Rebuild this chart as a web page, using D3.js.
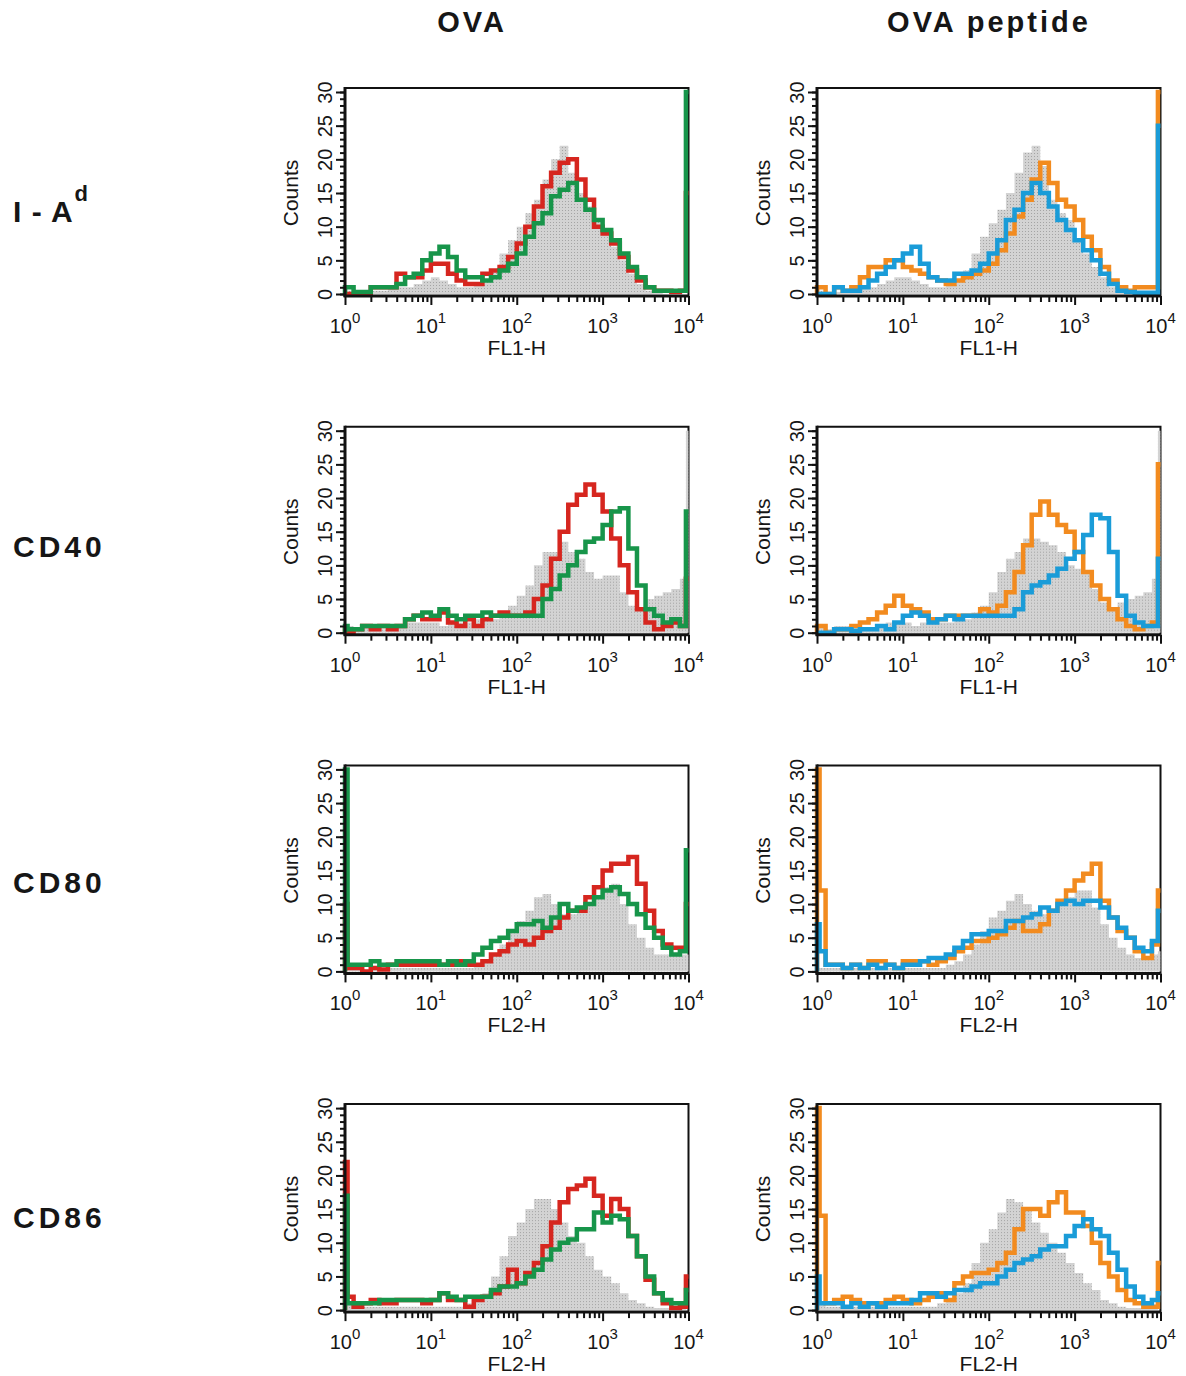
<!DOCTYPE html>
<html>
<head>
<meta charset="utf-8">
<script src="https://cdn.jsdelivr.net/npm/d3@7"></script>
<style>
  body { margin: 0; background: #fff; }
  svg { display: block; }
  text { font-family: "Liberation Sans", Arial, Helvetica, sans-serif; fill: #161616; }
  .colTitle { font-size: 29px; font-weight: bold; letter-spacing: 3px; }
  .rowLabel { font-size: 30px; font-weight: bold; letter-spacing: 4px; }
  .tickLabel { font-size: 20px; }
  .axisText { font-size: 21px; }
</style>
</head>
<body>
<div class="chart"></div>
<script>
// Categories
const rowNames = ['I - A', 'CD40', 'CD80', 'CD86']
const rowSup = ['d', '', '', '']
const colNames = ['OVA', 'OVA peptide']
const xTitles = ['FL1-H', 'FL1-H', 'FL2-H', 'FL2-H']
const yTicks = [0, 5, 10, 15, 20, 25, 30]
const xDecades = [0, 1, 2, 3, 4]

// Channel edges in decades: first channel, 0.1-decade bins, last channel
const edges = [0, 0.03, ...d3.range(1, 40).map(i => i / 10), 3.97, 4]

// Counts per bin (first channel, 40 bins, last channel)
// I-A^d, OVA
const iadOvaGray = [1, 0.5,0.3,0.3,0.5,0.5,0.8,1,1,1.5,2, 2.5,2,1.5,1,1,1.5,2,3.5,6,8, 10,12,14,17,20,22,18,15,13,11, 9,7,5,3,1.5,0.5,0.2,0,0,0, 0]
const iadOvaRed = [0, 0,0,0,1,1,1,3,2.5,2.5,3.5, 4.5,4.5,3,2,1.5,1.5,3,3.5,4,5.5, 7.5,10,13,16,18,19.5,20,17,14,10, 9,7.5,5.5,3.5,2,1,0.5,0.5,0.3,0.5, 15]
const iadOvaGreen = [1, 1,0.3,0.3,1,1,1,1.5,2.5,3,5, 6,7,5.5,3.5,2.5,2.5,2,2.5,3.5,4.5, 6,8.5,10.5,12,14.5,15.5,16.5,14,12.5,11, 9.5,8,6,4,2.5,1,0.5,0.5,0.5,0.5, 30]
// I-A^d, OVA peptide
const iadPepGray = [1, 0.5,0.3,0.3,0.5,0.5,0.8,1,1.5,2,2.5, 2.5,2,1.5,1,1,1.5,2,3.5,6,8.5, 10.5,12.5,15,18,21,22,19,14,12,11, 8,6,4,2.5,1,0.3,0.2,0,0,0, 0]
const iadPepOrange = [1, 1,0,1,0.5,1,2.5,4,4,5,5, 4,3.5,3,2.5,2,1.5,2,2.5,3,3.5, 4.5,6.5,9,11.5,14,17,19.5,16.5,14,13, 11,8.5,6.5,4,2,1,0.5,1,1,1, 30]
const iadPepBlue = [0, 0,0,1,0.5,0.5,1,2,3,4,5, 6,7,4.5,2.5,2,2,3,3,3.5,4.5, 6,8,11,12.5,15,16.5,15,13,11,9.5, 8,6.5,5,3,1.5,0.5,0.3,0.2,0.2,0.2, 25]
// CD40, OVA
const cd40OvaGray = [1, 1,0.5,1,0.5,0.5,0.5,1,1.5,1.5,1.5, 1.5,1,1.5,1.5,1.5,2,2,2,2.5,4, 5.5,7,10,12,12,13.5,12,11,9,8, 8.5,8.5,6,4,3.5,5,5.5,6,6.5,8, 30]
const cd40OvaRed = [0.5, 0,0.5,1,0.5,1,0.5,1,2,2.5,2, 2,3,1.5,1,2,1,2,2.5,3,2.5, 2.5,3,5,7,11,15,19,20.5,22,20.5, 18,14,10,6,3.5,1.5,0.5,1,1.5,1, 8]
const cd40OvaGreen = [1, 0.5,0.5,1,1,1,1,1,2,2.5,3, 2.5,3.5,2.5,2,2.5,2.5,3,2.5,2.5,2.5, 2.5,2.5,2.5,5,6.5,8.5,10,12,13.5,14, 16,18,18.5,12.5,7,3.5,2.5,1.5,2,1, 18]
// CD40, OVA peptide
const cd40PepGray = [1, 1,0.5,1,1,0.5,0.5,0.5,1,1.5,1.5, 1.5,1,1.5,1.5,1.5,1.5,2,2,3,4, 6,9,11,12,14,14,13.5,13,12,10, 9.5,9,6.5,4.5,3.5,4.5,5,5.5,6,8, 30]
const cd40PepOrange = [1, 1,0,0.5,0.5,1,1.5,2,3,4,5.5, 4,3.5,3,2,2,2.5,2.5,2.5,2.5,3.5, 3,4,6,9,13,17.5,19.5,17.5,16,15, 12,9,7,5,3.5,2,1,0.5,1,1.5, 25]
const cd40PepBlue = [0, 0,0,0.5,0.5,0.3,0.5,0.5,1,0.5,1.5, 2.5,3,2.5,1.5,2,2.5,2,2.5,2.5,2.5, 2.5,2.5,2.5,3.5,6,7,7.5,8.5,9.5,11, 12,14.5,17.5,17,12,5.5,2.5,1.5,1,1, 11]
// CD80, OVA
const cd80OvaGray = [0.5, 0.5,0.5,0.3,0.5,0.5,0.5,0.5,0.5,0.5,0.5, 0.5,0.5,0.5,0.5,0.5,1,1.5,2.5,4,6, 7.5,9,11,11.5,10,8.5,8.5,9,10,11, 12.5,13,10,7,5,3.5,2.5,2.5,2.5,2.5, 2.5]
const cd80OvaRed = [10, 0.5,0.5,0,0.5,0.3,1,1,1,1,1, 1,1,1,1.5,1,1,1.5,2.5,3,4, 4.5,4,5,6,6.5,8,9,9,11,12.5, 15,16,16,17,13,9,6,4,3.5,3.5, 10]
const cd80OvaGreen = [30, 1,1,1,1.5,1,1,1.5,1.5,1.5,1.5, 1.5,1,1.5,1,1.5,2.5,3.5,4.5,5,6, 7,7,7.5,6.5,8,10,9,9.5,10,11, 12,12.5,11.5,10,8.5,6.5,5,3.5,2.5,3, 18]
// CD80, OVA peptide
const cd80PepGray = [0.5, 0.5,0.5,0.5,0.5,0.5,0.5,0.5,0.5,0.5,0.5, 0.5,0.5,0.5,0.5,0.5,1,1.5,2.5,4,6, 8,9,10.5,11.5,10,9,8.5,9,10,11, 12,12,9.5,7,5,3.5,2.5,2,2,2.5, 3]
const cd80PepOrange = [30, 12,1,1,0.5,1,0.5,1.5,1.5,1,0.5, 1.5,1.5,1.5,1,1.5,2,3,3.5,4.5,4.5, 5,5.5,6.5,7.5,6,6,7,9,10.5,12, 13.5,14.5,16,10.5,8,6,5,3,2,4, 12]
const cd80PepBlue = [7, 3,1,1,0.5,1,0.5,1,0.5,1,0.5, 1,1,1.5,2,2,2.5,3.5,4.5,5.5,5.5, 6,6,7.5,7.5,8,8.5,9.5,9,10,10.5, 10,10.5,10.5,9.5,8,6.5,5,3.5,3,4.5, 9]
// CD86, OVA
const cd86OvaGray = [1, 1,0.5,0.5,0.5,0.5,0.5,0.5,0.5,0.5,0.5, 0.5,0.5,0.5,0.5,1,1.5,2.5,5,8,11, 13,15,16.5,16.5,15,13,11,10,8,6, 5,4,2.5,1.5,1,0.5,0.3,0.3,0.3,0.3, 0]
const cd86OvaRed = [22, 2,0.5,1,1.5,1,1,1.5,1.5,1.5,1, 1.5,2.5,1.5,1.5,0.5,1.5,2,2.5,3.5,6, 4,5.5,7,9.5,13,16,18,18.5,19.5,17, 14,16.5,15,11,8,4.5,2.5,1,0.3,0.5, 5]
const cd86OvaGreen = [17, 1,1,1,1,1.5,1.5,1.5,1.5,1.5,1.5, 1.5,2.5,2,1.5,2,2,2,3,3.5,3.5, 4,5,6,7.5,9,10,10.5,12,12,14.5, 13,14,13.5,11,8,5,2.5,1.5,1,1, 3]
// CD86, OVA peptide
const cd86PepGray = [1, 1,0.5,0.5,0.5,0.5,0.5,0.5,0.5,0.5,0.5, 0.5,0.5,0.5,0.5,1,1.5,2.5,4,7,10, 12,14.5,16.5,16,15,13,11.5,10,8.5,7, 5.5,4,3,1.5,1,0.5,0.3,0.3,0.3,0.3, 0]
const cd86PepOrange = [30, 14,1,1.5,2,1.5,1,1,1,1.5,2, 1.5,1,1.5,2,2.5,1.5,4,5,5.5,5.5, 6,7,8.5,12,15,15,14,16,17.5,14.5, 14.5,12.5,10,7,5,3,1.5,1,0.5,0.5, 7]
const cd86PepBlue = [5, 1,1,1,0.5,1,0.5,1,0.5,1,1, 1,1.5,2.5,2.5,2,2.5,3,3,3.5,4, 4,5,6,7,7.5,8,9,9.5,9.5,11, 12.5,13.5,12,11,8.5,6,3.5,2,1,1.5, 2.5]

const panels = [
  { row: 0, col: 0, gray: iadOvaGray, lines: [iadOvaRed, iadOvaGreen] },
  { row: 0, col: 1, gray: iadPepGray, lines: [iadPepOrange, iadPepBlue] },
  { row: 1, col: 0, gray: cd40OvaGray, lines: [cd40OvaRed, cd40OvaGreen] },
  { row: 1, col: 1, gray: cd40PepGray, lines: [cd40PepOrange, cd40PepBlue] },
  { row: 2, col: 0, gray: cd80OvaGray, lines: [cd80OvaRed, cd80OvaGreen] },
  { row: 2, col: 1, gray: cd80PepGray, lines: [cd80PepOrange, cd80PepBlue] },
  { row: 3, col: 0, gray: cd86OvaGray, lines: [cd86OvaRed, cd86OvaGreen] },
  { row: 3, col: 1, gray: cd86PepGray, lines: [cd86PepOrange, cd86PepBlue] }
]
const lineColors = [['#d6261f', '#17954a'], ['#f28b1f', '#1a9cd8']]

// Canvas
const svg = d3.select('.chart')
  .append('svg')
  .attr('width', 1186)
  .attr('height', 1376)

// stippled grey fill for the control histogram
const pat = svg.append('defs').append('pattern')
  .attr('id', 'stipple')
  .attr('width', 3).attr('height', 3)
  .attr('patternUnits', 'userSpaceOnUse')
pat.append('rect').attr('width', 3).attr('height', 3).attr('fill', '#d3d3d3')
pat.append('rect').attr('x', 1).attr('y', 1).attr('width', 1).attr('height', 1).attr('fill', '#a4a4a4')

const plotW = 343.5
const plotH = 202
const colLeft = c => 345 + c * 472
const rowBase = r => 294 + r * 338.7

const x = d3.scaleLog().domain([1, 1e4]).range([0, plotW])
const y = d3.scaleLinear().domain([0, 30]).range([plotH, 0])

// column titles
svg.selectAll('.colTitle')
  .data(colNames)
  .enter()
  .append('text')
  .attr('class', 'colTitle')
  .attr('x', (d, i) => i === 0 ? 472 : 989)
  .attr('y', 32)
  .attr('text-anchor', 'middle')
  .text(d => d)

// row labels
rowNames.forEach((name, r) => {
  const t = svg.append('text')
    .attr('class', 'rowLabel')
    .attr('x', 13)
    .attr('y', 222 + r * 335.3)
    .style('letter-spacing', rowSup[r] ? '1px' : null)
  t.append('tspan').text(name)
  if (rowSup[r]) {
    t.append('tspan')
      .attr('dy', -21)
      .attr('dx', 1)
      .style('font-size', '22px')
      .text(rowSup[r])
  }
})

const stepPoints = vals => {
  const pts = [{ e: 0, v: 0 }]
  edges.forEach((e, i) => pts.push({ e: e, v: vals[Math.min(i, vals.length - 1)] }))
  return pts
}

const lineGen = d3.line()
  .curve(d3.curveStepAfter)
  .x(d => x(Math.pow(10, d.e)))
  .y(d => y(d.v))

const areaGen = d3.area()
  .curve(d3.curveStepAfter)
  .x(d => x(Math.pow(10, d.e)))
  .y0(y(0))
  .y1(d => y(d.v))

panels.forEach(p => {
  const g = svg.append('g')
    .attr('transform', `translate(${colLeft(p.col)}, ${rowBase(p.row) - plotH})`)

  // frame (top and right)
  g.append('path')
    .attr('d', `M0,-4H${plotW}V${plotH + 2}`)
    .attr('fill', 'none')
    .attr('stroke', '#111')
    .attr('stroke-width', 2)

  // control histogram
  g.append('path')
    .datum(stepPoints(p.gray))
    .attr('d', areaGen)
    .attr('fill', 'url(#stipple)')

  // stained histograms
  p.lines.forEach((vals, k) => {
    g.append('path')
      .datum(stepPoints(vals))
      .attr('d', lineGen)
      .attr('fill', 'none')
      .attr('stroke', lineColors[p.col][k])
      .attr('stroke-width', 4.5)
      .attr('stroke-linejoin', 'miter')
  })

  // Y-axis: minor and major ticks
  const yMinor = g.append('g').call(
    d3.axisLeft(y).tickValues(d3.range(0, 31)).tickSize(5).tickSizeOuter(0).tickFormat(''))
  const yMajor = g.append('g').call(
    d3.axisLeft(y).tickValues(yTicks).tickSize(9).tickSizeOuter(0))
  yMajor.selectAll('text')
    .attr('class', 'tickLabel')
    .attr('x', null)
    .attr('dy', null)
    .attr('text-anchor', 'middle')
    .attr('fill', '#161616')
    .attr('transform', 'translate(-13,0) rotate(-90)')
  ;[yMinor, yMajor].forEach(a => {
    a.selectAll('line').attr('stroke', '#111').attr('stroke-width', 2)
    a.select('.domain').remove()
  })
  g.append('line')
    .attr('x1', 0).attr('x2', 0)
    .attr('y1', -5).attr('y2', plotH + 3)
    .attr('stroke', '#111')
    .attr('stroke-width', 3)

  // X-axis: log ticks
  const xMinorVals = []
  xDecades.slice(0, -1).forEach(k => d3.range(2, 10).forEach(m => xMinorVals.push(m * Math.pow(10, k))))
  const xMinor = g.append('g')
    .attr('transform', `translate(0, ${plotH + 2})`)
    .call(d3.axisBottom(x).tickValues(xMinorVals).tickSize(6).tickSizeOuter(0).tickFormat(''))
  const xMajor = g.append('g')
    .attr('transform', `translate(0, ${plotH + 2})`)
    .call(d3.axisBottom(x).tickValues(xDecades.map(k => Math.pow(10, k))).tickSize(9).tickSizeOuter(0).tickFormat(''))
  ;[xMinor, xMajor].forEach(a => {
    a.selectAll('line').attr('stroke', '#111').attr('stroke-width', 2)
    a.select('.domain').remove()
  })
  g.append('line')
    .attr('x1', -1.5).attr('x2', plotW)
    .attr('y1', plotH + 2).attr('y2', plotH + 2)
    .attr('stroke', '#111')
    .attr('stroke-width', 3)

  xDecades.forEach(k => {
    const t = g.append('text')
      .attr('class', 'tickLabel')
      .attr('x', x(Math.pow(10, k)))
      .attr('y', plotH + 39)
      .attr('text-anchor', 'middle')
    t.append('tspan').text('10')
    t.append('tspan').attr('dy', -10).style('font-size', '15px').text(k)
  })

  g.append('text')
    .attr('class', 'axisText')
    .attr('x', plotW / 2)
    .attr('y', plotH + 61)
    .attr('text-anchor', 'middle')
    .text(xTitles[p.row])

  g.append('text')
    .attr('class', 'axisText')
    .attr('transform', `translate(-47, ${plotH / 2}) rotate(-90)`)
    .attr('text-anchor', 'middle')
    .text('Counts')
})
</script>
</body>
</html>
